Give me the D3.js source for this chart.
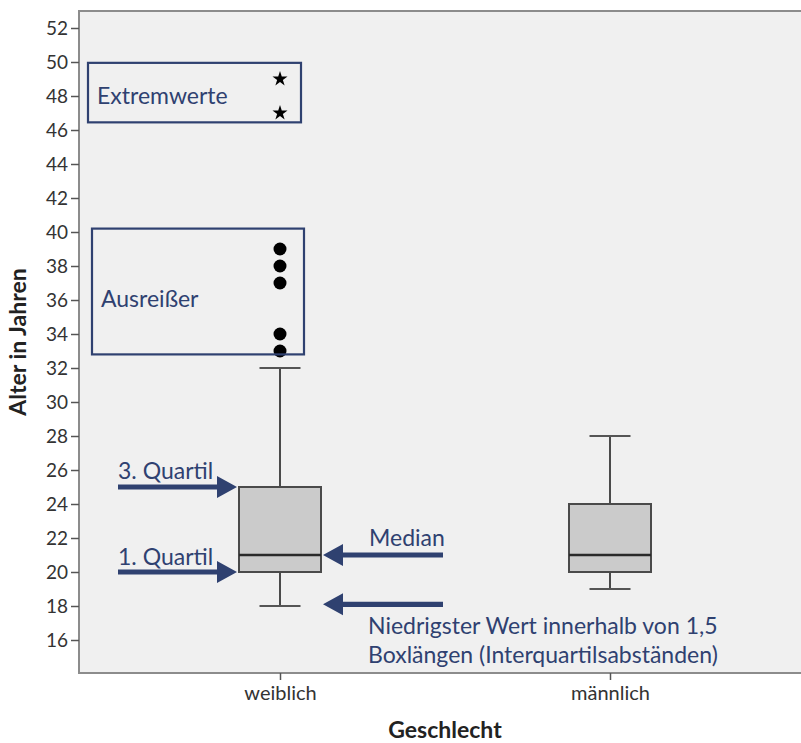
<!DOCTYPE html>
<html>
<head>
<meta charset="utf-8">
<script src="https://cdn.jsdelivr.net/npm/d3@7/dist/d3.min.js"></script>
<style>
  html, body { margin: 0; padding: 0; background: #ffffff; }
  svg { display: block; }
</style>
</head>
<body>
<svg id="chart" width="801" height="743"></svg>
<script>
// ---- data ----
const categories = ["weiblich", "männlich"];
const q1 = [20, 20];
const median = [21, 21];
const q3 = [25, 24];
const whiskerLow = [18, 19];
const whiskerHigh = [32, 28];
const outliers = [39, 38, 37, 34, 33];   // weiblich
const extremes = [49, 47];               // weiblich
const yTicks = [16, 18, 20, 22, 24, 26, 28, 30, 32, 34, 36, 38, 40, 42, 44, 46, 48, 50, 52];
const yTitle = "Alter in Jahren";
const xTitle = "Geschlecht";

// ---- layout ----
const svg = d3.select("#chart");
const plot = { left: 79, top: 11, right: 830, bottom: 673 };
const y = d3.scaleLinear().domain([20 - 101 / 17, 20 + 561 / 17]).range([plot.bottom, plot.top]);
const x = d3.scalePoint().domain(categories).range([280, 610]);
const font = "Lato, Calibri, 'Open Sans', sans-serif";
const navy = "#2f4170";
const annoSize = 23;
const boxW = 82, capW = 41;

// plot background
svg.append("rect")
  .attr("x", plot.left).attr("y", plot.top)
  .attr("width", plot.right - plot.left).attr("height", plot.bottom - plot.top)
  .attr("fill", "#f0f0f0").attr("stroke", "#8c8c8c").attr("stroke-width", 2);

// y axis
const yAxis = svg.append("g")
  .attr("transform", `translate(${plot.left},0)`)
  .call(d3.axisLeft(y).tickValues(yTicks).tickSize(8).tickPadding(3).tickFormat(d3.format("d")));
yAxis.select(".domain").remove();
yAxis.selectAll(".tick line").attr("stroke", "#555").attr("stroke-width", 1.5);
yAxis.selectAll(".tick text").attr("font-family", font).attr("font-size", 19).attr("fill", "#333");

// x axis
const xAxis = svg.append("g")
  .attr("transform", `translate(0,${plot.bottom})`)
  .call(d3.axisBottom(x).tickSize(7).tickPadding(6));
xAxis.select(".domain").remove();
xAxis.selectAll(".tick line").attr("stroke", "#555").attr("stroke-width", 1.5);
xAxis.selectAll(".tick text").attr("font-family", font).attr("font-size", 20).attr("fill", "#333");

// axis titles
svg.append("text")
  .attr("transform", `translate(26,${(plot.top + plot.bottom) / 2}) rotate(-90)`)
  .attr("text-anchor", "middle")
  .attr("font-family", font).attr("font-weight", "bold").attr("font-size", 23).attr("fill", "#222")
  .text(yTitle);
svg.append("text")
  .attr("x", (x(categories[0]) + x(categories[1])) / 2).attr("y", 738)
  .attr("text-anchor", "middle")
  .attr("font-family", font).attr("font-weight", "bold").attr("font-size", 23).attr("fill", "#222")
  .text(xTitle);

// boxplots
const boxes = categories.map((c, i) => ({ c, q1: q1[i], med: median[i], q3: q3[i], lo: whiskerLow[i], hi: whiskerHigh[i] }));
const g = svg.append("g").attr("stroke", "#4a4a4a").attr("stroke-width", 2);
boxes.forEach(b => {
  const cx = x(b.c);
  g.append("line").attr("x1", cx).attr("x2", cx).attr("y1", y(b.hi)).attr("y2", y(b.q3));
  g.append("line").attr("x1", cx).attr("x2", cx).attr("y1", y(b.q1)).attr("y2", y(b.lo));
  g.append("line").attr("x1", cx - capW / 2).attr("x2", cx + capW / 2).attr("y1", y(b.hi)).attr("y2", y(b.hi)).attr("stroke", "#555");
  g.append("line").attr("x1", cx - capW / 2).attr("x2", cx + capW / 2).attr("y1", y(b.lo)).attr("y2", y(b.lo)).attr("stroke", "#555");
  g.append("rect").attr("x", cx - boxW / 2).attr("y", y(b.q3)).attr("width", boxW).attr("height", y(b.q1) - y(b.q3))
    .attr("fill", "#cbcbcb");
  g.append("line").attr("x1", cx - boxW / 2).attr("x2", cx + boxW / 2).attr("y1", y(b.med)).attr("y2", y(b.med))
    .attr("stroke", "#2a2a2a").attr("stroke-width", 2.5);
});

// outliers & extremes
svg.append("g").selectAll("circle").data(outliers).join("circle")
  .attr("cx", x("weiblich")).attr("cy", d => y(d)).attr("r", 6.5).attr("fill", "#000");
svg.append("g").selectAll("path").data(extremes).join("path")
  .attr("transform", d => `translate(${x("weiblich")},${y(d)})`)
  .attr("d", d3.symbol().type(d3.symbolStar).size(70)).attr("fill", "#000");

// annotation boxes
const annoBox = (x0, x1, vTop, vBot, label, ty) => {
  svg.append("rect").attr("x", x0).attr("y", y(vTop)).attr("width", x1 - x0).attr("height", y(vBot) - y(vTop))
    .attr("fill", "none").attr("stroke", navy).attr("stroke-width", 2.2);
  svg.append("text").attr("x", x0 + 9).attr("y", ty)
    .attr("font-family", font).attr("font-size", annoSize).attr("fill", navy).text(label);
};
annoBox(88, 301, 49.95, 46.45, "Extremwerte", 104);
annoBox(92, 304, 40.2, 32.8, "Ausreißer", 307);

// arrows
const arrow = (xFrom, xTip, v) => {
  const yy = y(v), dir = Math.sign(xTip - xFrom), head = 20, hw = 11, sw = 2.6;
  const xb = xTip - dir * head;
  const pts = [[xFrom, yy - sw], [xb, yy - sw], [xb, yy - hw], [xTip, yy], [xb, yy + hw], [xb, yy + sw], [xFrom, yy + sw]];
  svg.append("path").attr("d", d3.line()(pts) + "Z").attr("fill", navy);
};
const label = (tx, ty, txt) => svg.append("text").attr("x", tx).attr("y", ty)
  .attr("font-family", font).attr("font-size", annoSize).attr("fill", navy).text(txt);

arrow(118, x("weiblich") - boxW / 2 - 2, q3[0]);
label(118, 479, "3. Quartil");
arrow(118, x("weiblich") - boxW / 2 - 2, q1[0]);
label(118, 565, "1. Quartil");
arrow(443, x("weiblich") + boxW / 2 + 2, median[0]);
label(369, 546, "Median");
arrow(443, x("weiblich") + boxW / 2 + 2, whiskerLow[0] + 0.1);
label(368, 634, "Niedrigster Wert innerhalb von 1,5");
label(368, 663, "Boxlängen (Interquartilsabständen)");
</script>
</body>
</html>
